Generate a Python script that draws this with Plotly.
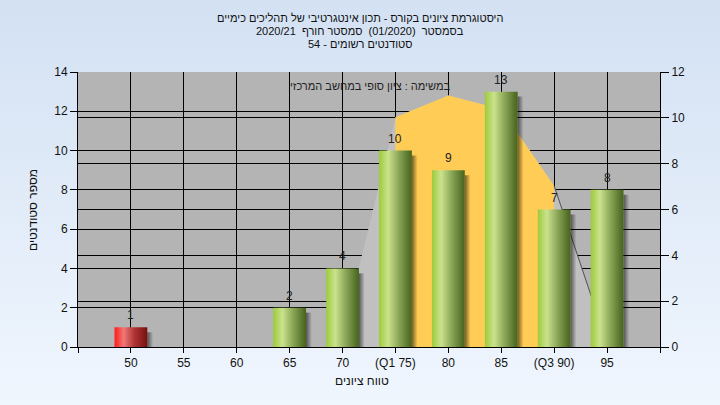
import base64
import plotly.graph_objects as go

# ---- data ----
grades = [50, 55, 60, 65, 70, 75, 80, 85, 90, 95]
counts = [1, 0, 0, 2, 4, 10, 9, 13, 7, 8]
tick_vals = [45, 50, 55, 60, 65, 70, 75, 80, 85, 90, 95, 100]
tick_text = ["", "50", "55", "60", "65", "70", "(Q1 75)", "80", "85", "(Q3 90)", "95", ""]
curve_x = [70, 75, 80, 85, 90, 95]
curve_y = [0.6, 11.7, 12.8, 12.1, 8.2, 0.2]
q1, q3 = 75, 90
fail_limit = 55

title_lines = [
    "היסטוגרמת ציונים בקורס - תכון אינטגרטיבי של תהליכים כימיים",
    "בסמסטר  (01/2020)  סמסטר חורף  2020/21",
    "סטודנטים רשומים - 54",
]
legend_text = "במשימה : ציון סופי במחשב המרכזי"
x_title = "טווח ציונים"
y_title = "מספר סטודנטים"

FONT = "Liberation Sans, Arial, sans-serif"
BAR_W = 3.1

fig = go.Figure()

# normal-curve area (gray) and Q1-Q3 part (yellow)
fig.add_trace(go.Scatter(x=curve_x, y=curve_y, fill="tozeroy", mode="lines",
                         line=dict(width=0), fillcolor="#c0c0c0", hoverinfo="skip"))
inner = [i for i, v in enumerate(curve_x) if q1 <= v <= q3]
fig.add_trace(go.Scatter(x=[curve_x[i] for i in inner], y=[curve_y[i] for i in inner],
                         fill="tozeroy", mode="lines", line=dict(width=0),
                         fillcolor="#ffcc55", hoverinfo="skip"))
tail = [i for i, v in enumerate(curve_x) if v >= q3]
fig.add_trace(go.Scatter(x=[curve_x[i] for i in tail], y=[curve_y[i] for i in tail],
                         mode="lines", line=dict(width=1, color="#505050"), hoverinfo="skip"))

green = [[0, "#9ccb3c"], [0.28, "#cbe28d"], [0.6, "#8aa657"], [1, "#46621c"]]
red = [[0, "#ff1a1a"], [0.28, "#f07878"], [0.6, "#b03434"], [1, "#761010"]]
shadow = [[0, "rgba(0,0,0,0.55)"], [1, "rgba(0,0,0,0)"]]

for g, c in zip(grades, counts):
    if c <= 0:
        continue
    sx0 = g + BAR_W / 2
    sx1 = sx0 + 0.55
    fig.add_trace(go.Scatter(x=[sx0, sx1, sx1, sx0, sx0], y=[0, 0, c - 0.25, c - 0.25, 0],
                             fill="toself", mode="lines", line=dict(width=0),
                             fillgradient=dict(type="horizontal", colorscale=shadow),
                             hoverinfo="skip"))
    x0 = g - BAR_W / 2
    x1 = g + BAR_W / 2
    fig.add_trace(go.Scatter(x=[x0, x1, x1, x0, x0], y=[0, 0, c, c, 0],
                             fill="toself", mode="lines", line=dict(width=0),
                             fillgradient=dict(type="horizontal",
                                               colorscale=red if g < fail_limit else green),
                             hoverinfo="skip"))

# dummy trace for right axis
fig.add_trace(go.Scatter(x=[None], y=[None], yaxis="y2", showlegend=False))

# background gradient
svg = ("<svg xmlns='http://www.w3.org/2000/svg' width='720' height='405'>"
       "<defs><linearGradient id='g' x1='0' y1='0' x2='0' y2='1'>"
       "<stop offset='0' stop-color='#d3e1f3'/><stop offset='1' stop-color='#f0f6fe'/>"
       "</linearGradient></defs><rect width='720' height='405' fill='url(#g)'/></svg>")
uri = "data:image/svg+xml;base64," + base64.b64encode(svg.encode()).decode()

L, R, T, B = 78, 60, 72, 58
PW, PH = 720 - L - R, 405 - T - B

def px(x):
    return (x - L) / PW

def py(y):
    return (405 - B - y) / PH

annotations = []
for i, line in enumerate(title_lines):
    annotations.append(dict(text=line, x=px(360), y=py(18 + 13 * i), xref="paper", yref="paper",
                            showarrow=False, font=dict(family=FONT, size=11, color="#111"),
                            xanchor="center", yanchor="middle"))
annotations.append(dict(text=legend_text, x=px(370), y=py(86), xref="paper", yref="paper",
                        showarrow=False, font=dict(family=FONT, size=11, color="#222"),
                        xanchor="center", yanchor="middle"))
annotations.append(dict(text=x_title, x=px(362), y=py(381), xref="paper", yref="paper",
                        showarrow=False, font=dict(family=FONT, size=12, color="#111"),
                        xanchor="center", yanchor="middle"))
annotations.append(dict(text=y_title, x=px(33), y=py(210), xref="paper", yref="paper",
                        showarrow=False, textangle=-90, font=dict(family=FONT, size=12, color="#111"),
                        xanchor="center", yanchor="middle"))
for g, c in zip(grades, counts):
    if c > 0:
        annotations.append(dict(text=str(c), x=g, y=c, xref="x", yref="y", showarrow=False,
                                xanchor="center", yanchor="bottom", yshift=3,
                                font=dict(family=FONT, size=12, color="#222")))

fig.update_layout(
    width=720, height=405,
    margin=dict(l=L, r=R, t=T, b=B),
    paper_bgcolor="#e2ecf8",
    plot_bgcolor="rgba(0,0,0,0)",
    showlegend=False,
    images=[dict(source=uri, xref="paper", yref="paper", x=px(0), y=py(0),
                 sizex=720 / PW, sizey=405 / PH, sizing="stretch",
                 xanchor="left", yanchor="top", layer="below")],
    shapes=[dict(type="rect", xref="paper", yref="paper", x0=0, x1=1, y0=0, y1=1,
                 fillcolor="#b4b4b4", line=dict(width=0), layer="below")],
    xaxis=dict(range=[45, 100], tickmode="array", tickvals=tick_vals, ticktext=tick_text,
               showgrid=True, gridcolor="#000000", gridwidth=1,
               showline=True, linecolor="#000000", linewidth=1,
               ticks="outside", ticklen=5, tickcolor="#000000",
               tickfont=dict(family=FONT, size=12, color="#111"), zeroline=False),
    yaxis=dict(range=[0, 14], dtick=2, showgrid=True, gridcolor="#000000", gridwidth=1,
               showline=True, linecolor="#000000", linewidth=1,
               ticks="outside", ticklen=7, tickcolor="#000000",
               tickfont=dict(family=FONT, size=12, color="#111"), zeroline=False),
    yaxis2=dict(range=[0, 12], dtick=2, overlaying="y", side="right",
                showgrid=True, gridcolor="#000000", gridwidth=1,
                showline=True, linecolor="#000000", linewidth=1,
                ticks="outside", ticklen=8, tickcolor="#000000",
                tickfont=dict(family=FONT, size=12, color="#111"), zeroline=False),
    annotations=annotations,
)

fig.write_html("out.html", config={"displayModeBar": False},
               post_script="document.body.style.margin='0';")
